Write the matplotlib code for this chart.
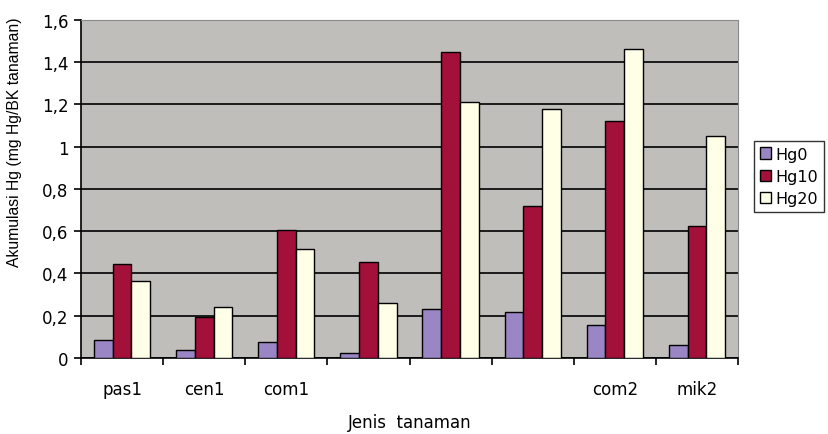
import numpy as np
import matplotlib
matplotlib.use('Agg')
import matplotlib.pyplot as plt
import matplotlib.ticker as ticker

plt.rcParams['font.family'] = ['DejaVu Sans']

# Hg accumulation per plant type
plants = ['pas1', 'cen1', 'com1', '', '', '', 'com2', 'mik2']
hg0 = [0.085, 0.038, 0.076, 0.024, 0.232, 0.217, 0.156, 0.061]
hg10 = [0.444, 0.194, 0.607, 0.454, 1.448, 0.718, 1.120, 0.625]
hg20 = [0.365, 0.241, 0.515, 0.260, 1.212, 1.177, 1.460, 1.050]
series_names = ['Hg0', 'Hg10', 'Hg20']
yticks = [0, 0.2, 0.4, 0.6, 0.8, 1.0, 1.2, 1.4, 1.6]

W, H = 829, 435
fig = plt.figure(figsize=(W / 100, H / 100), dpi=100)
ax = fig.add_axes([81 / W, (H - 359) / H, (738 - 81) / W, (359 - 20.7) / H])
ax.set_facecolor('#bfbebb')

ind = np.arange(len(plants))
width = 0.228
colors = ['#9a86c4', '#a3103a', '#fffee6']
for k, (vals, c) in enumerate(zip([hg0, hg10, hg20], colors)):
	ax.bar(ind + (k - 1) * width, vals, width, color=c, edgecolor='black',
		linewidth=1.0, label=series_names[k], zorder=3)

ax.set_xlim(-0.5, len(plants) - 0.5)
ax.set_ylim(0, 1.6)
ax.set_yticks(yticks)
ax.yaxis.set_major_formatter(ticker.FuncFormatter(
	lambda v, pos: ('%g' % round(v, 1)).replace('.', ',')))
ax.yaxis.grid(True, color='black', linewidth=1.2, zorder=1)

ax.set_xticks(ind)
ax.set_xticklabels(plants)
ax.set_xticks(np.arange(-0.5, len(plants)), minor=True)
ax.tick_params(axis='x', which='major', length=0, pad=16, labelsize=12)
ax.tick_params(axis='x', which='minor', length=5, width=1.2, direction='out')
ax.tick_params(axis='y', length=5, width=1.2, direction='out', labelsize=12, pad=4)

for s in ['top', 'right']:
	ax.spines[s].set_color('#8a8a8a')
	ax.spines[s].set_linewidth(0.8)
for s in ['left', 'bottom']:
	ax.spines[s].set_linewidth(1.2)

ax.set_ylabel('Akumulasi Hg (mg Hg/BK tanaman)', fontsize=11.3,
	family=['Liberation Sans', 'DejaVu Sans'])
ax.yaxis.set_label_coords((22 - 81) / (738 - 81), 0.64)
fig.text(410 / W, 1 - 423 / H, 'Jenis  tanaman', ha='center', va='center', fontsize=12)

lgd = ax.legend(loc='upper left', bbox_to_anchor=(754 / W, 1 - 142 / H),
	bbox_transform=fig.transFigure, frameon=True, fancybox=False,
	edgecolor='black', fontsize=11.5, handlelength=0.7, handleheight=0.7,
	handletextpad=0.3, borderpad=0.35, labelspacing=0.45, borderaxespad=0)
lgd.get_frame().set_linewidth(1.0)

plt.savefig('out.png', dpi=100)
